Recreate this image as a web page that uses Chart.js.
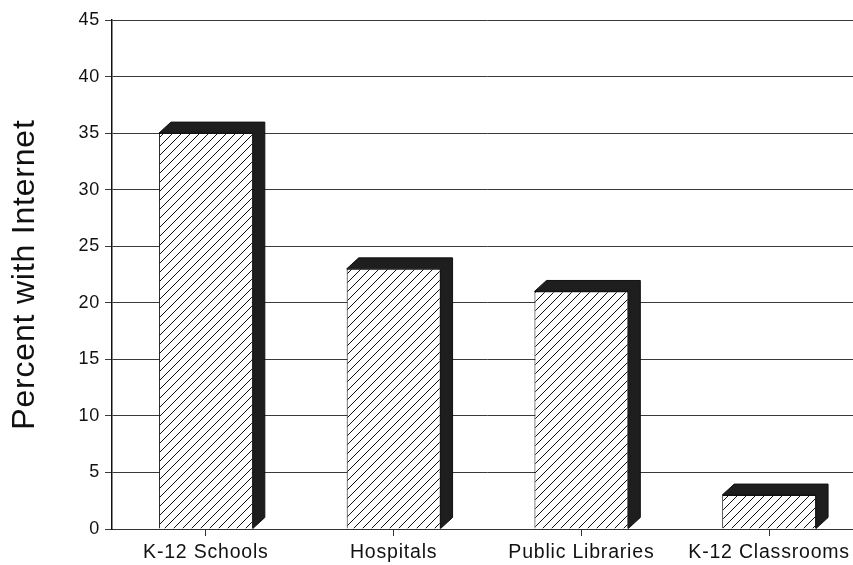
<!DOCTYPE html>
<html>
<head>
<meta charset="utf-8">
<script src="https://cdn.jsdelivr.net/npm/chart.js@4/dist/chart.umd.min.js"></script>
<style>
  html, body { margin: 0; padding: 0; background: #fff; overflow: hidden; }
  #wrap { position: relative; width: 863px; height: 565px; }
</style>
</head>
<body>
<div id="wrap"><canvas id="chart"></canvas></div>
<script>
// Share of institutions connected to the Internet
const categories = ['K-12 Schools', 'Hospitals', 'Public Libraries', 'K-12 Classrooms'];
const percentWithInternet = [35, 23, 21, 3];
const yTickValues = [0, 5, 10, 15, 20, 25, 30, 35, 40, 45];
const yAxisTitle = 'Percent with Internet';

const FONT_FAMILY = '"Liberation Sans", Arial, Helvetica, sans-serif';
const TEXT_SPACING = '0.8px';

// Diagonal "/" hatch used on the front faces of the bars
function makeHatch() {
  const s = 9;
  const c = document.createElement('canvas');
  c.width = s; c.height = s;
  const g = c.getContext('2d');
  g.fillStyle = '#ffffff';
  g.fillRect(0, 0, s, s);
  g.strokeStyle = '#111111';
  g.lineWidth = 1;
  g.beginPath();
  g.moveTo(-1, s + 1); g.lineTo(s + 1, -1);
  g.moveTo(-1, 1); g.lineTo(1, -1);
  g.moveTo(s - 1, s + 1); g.lineTo(s + 1, s - 1);
  g.stroke();
  return g.createPattern(c, 'repeat');
}

// Slightly wider letter spacing for all chart text
const textSpacing = {
  id: 'textSpacing',
  beforeUpdate(chart) { chart.ctx.letterSpacing = TEXT_SPACING; },
  beforeLayout(chart) { chart.ctx.letterSpacing = TEXT_SPACING; },
  beforeDraw(chart) { chart.ctx.letterSpacing = TEXT_SPACING; }
};

// Dark top and right-hand side faces that give the bars depth
const barDepth = {
  id: 'barDepth',
  afterDatasetsDraw(chart) {
    const ctx = chart.ctx;
    const dx = 12, dy = 11;
    const meta = chart.getDatasetMeta(0);
    ctx.save();
    ctx.fillStyle = '#1e1e1e';
    ctx.strokeStyle = '#111111';
    ctx.lineWidth = 1;
    meta.data.forEach(bar => {
      const { x, y, base, width } = bar.getProps(['x', 'y', 'base', 'width'], true);
      const x0 = x - width / 2, x1 = x + width / 2;
      ctx.beginPath();
      ctx.moveTo(x0, y);
      ctx.lineTo(x0 + dx, y - dy);
      ctx.lineTo(x1 + dx, y - dy);
      ctx.lineTo(x1 + dx, base - dy);
      ctx.lineTo(x1, base);
      ctx.lineTo(x1, y);
      ctx.closePath();
      ctx.fill();
      ctx.stroke();
    });
    ctx.restore();
  }
};

new Chart(document.getElementById('chart'), {
  type: 'bar',
  data: {
    labels: categories,
    datasets: [{
      data: percentWithInternet,
      backgroundColor: makeHatch(),
      borderColor: '#111111',
      borderWidth: 1,
      barPercentage: 0.5,
      categoryPercentage: 1.0
    }]
  },
  options: {
    responsive: true,
    maintainAspectRatio: false,
    animation: false,
    layout: { padding: { left: 0, right: 0, top: 20, bottom: 0 } },
    plugins: {
      legend: { display: false },
      tooltip: { enabled: false }
    },
    scales: {
      x: {
        offset: true,
        grid: {
          display: true,
          offset: false,
          drawOnChartArea: false,
          drawTicks: true,
          tickLength: 7,
          color: '#333333',
          lineWidth: 1
        },
        border: { display: true, color: '#333333', width: 1 },
        ticks: {
          color: '#111111',
          padding: 5,
          maxRotation: 0,
          autoSkip: false,
          font: { family: FONT_FAMILY, size: 19.5 }
        },
        afterFit(scale) { scale.height = 36; }
      },
      y: {
        min: 0,
        max: 45,
        afterBuildTicks(scale) { scale.ticks = yTickValues.map(v => ({ value: v })); },
        grid: {
          color: '#3a3a3a',
          lineWidth: 1,
          drawTicks: true,
          tickLength: 7
        },
        border: { display: true, color: '#111111', width: 1.5 },
        ticks: {
          color: '#111111',
          padding: 5,
          font: { family: FONT_FAMILY, size: 18 }
        },
        title: {
          display: true,
          text: yAxisTitle,
          color: '#111111',
          padding: { top: 6, bottom: 0 },
          font: { family: FONT_FAMILY, size: 32, weight: 'normal' }
        },
        afterFit(scale) { scale.width = 112; }
      }
    }
  },
  plugins: [textSpacing, barDepth]
});
</script>
</body>
</html>
